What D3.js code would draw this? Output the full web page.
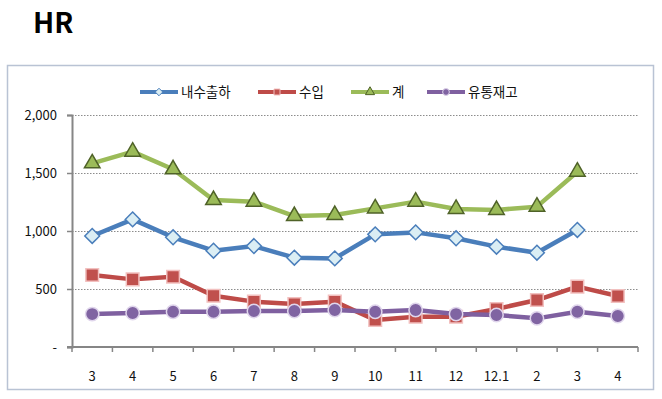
<!DOCTYPE html>
<html>
<head>
<meta charset="utf-8">
<script src="https://cdn.jsdelivr.net/npm/d3@7"></script>
<style>
  body { margin: 0; background: #fff; }
  text { font-family: "Noto Sans CJK KR", "Noto Sans", sans-serif; }
</style>
</head>
<body>
<div id="canvas"></div>
<script>
// x categories (months)
var months = ["3", "4", "5", "6", "7", "8", "9", "10", "11", "12", "12.1", "2", "3", "4"];
// series values
var domestic = [957, 1100, 946, 830, 870, 770, 764, 971, 988, 937, 865, 813, 1009];
var imports = [621, 583, 606, 442, 391, 371, 391, 233, 261, 261, 328, 405, 520, 440];
var total = [1583, 1684, 1532, 1267, 1253, 1129, 1138, 1195, 1253, 1190, 1181, 1210, 1511];
var stock = [284, 293, 304, 304, 310, 310, 319, 304, 319, 284, 276, 247, 304, 267];
var yTicks = [0, 500, 1000, 1500, 2000];
var seriesNames = ["내수출하", "수입", "계", "유통재고"];

var width = 662, height = 399;
var svg = d3.select("#canvas").append("svg")
  .attr("width", width).attr("height", height);

// title
svg.append("text")
  .attr("x", 33).attr("y", 33)
  .attr("font-size", 28).attr("font-weight", "bold")
  .attr("fill", "#000")
  .text("HR");

// chart frame
svg.append("rect")
  .attr("x", 7.5).attr("y", 65.5)
  .attr("width", 646).attr("height", 324)
  .attr("fill", "#fff").attr("stroke", "#b9c3d4").attr("stroke-width", 1.5);

var plotLeft = 72, plotRight = 638, plotTop = 115, plotBottom = 347;

var x = d3.scaleBand().domain(d3.range(months.length)).range([plotLeft, plotRight]);
var y = d3.scaleLinear().domain([0, 2000]).range([plotBottom, plotTop]);

// gridlines
svg.append("g").selectAll("line")
  .data(yTicks.filter(function (d) { return d > 0; }))
  .enter().append("line")
  .attr("x1", plotLeft).attr("x2", plotRight)
  .attr("y1", function (d) { return y(d) + 0.5; })
  .attr("y2", function (d) { return y(d) + 0.5; })
  .attr("stroke", "#8c8c8c").attr("stroke-width", 1)
  .attr("stroke-dasharray", "1.5,1.5");

// y axis
var yAxis = svg.append("g")
  .attr("transform", "translate(" + plotLeft + ",0)")
  .call(d3.axisLeft(y).tickValues(yTicks).tickSize(5).tickPadding(10)
    .tickFormat(function (d) { return d === 0 ? "-" : d3.format(",")(d); }));
yAxis.select(".domain").attr("stroke", "#868686").attr("stroke-width", 2);
yAxis.selectAll(".tick line").attr("stroke", "#868686").attr("stroke-width", 1.5);
yAxis.selectAll("text").attr("font-size", 13).attr("fill", "#111")
  .attr("font-family", "'Noto Sans CJK KR', sans-serif");

// x axis: ticks at category boundaries
var boundaries = d3.range(months.length + 1).map(function (i) { return plotLeft + i * x.step(); });
var xAxisG = svg.append("g");
xAxisG.append("line")
  .attr("x1", plotLeft - 5).attr("x2", plotRight)
  .attr("y1", plotBottom).attr("y2", plotBottom)
  .attr("stroke", "#868686").attr("stroke-width", 2);
xAxisG.selectAll("line.tk").data(boundaries).enter().append("line")
  .attr("class", "tk")
  .attr("x1", function (d) { return d; }).attr("x2", function (d) { return d; })
  .attr("y1", plotBottom).attr("y2", plotBottom + 5)
  .attr("stroke", "#868686").attr("stroke-width", 1.5);
xAxisG.selectAll("text").data(months).enter().append("text")
  .attr("x", function (d, i) { return x(i) + x.bandwidth() / 2; })
  .attr("y", 381)
  .attr("text-anchor", "middle")
  .attr("font-size", 13).attr("fill", "#111")
  .text(function (d) { return d; });

var series = [
  { name: seriesNames[0], values: domestic, line: "#4a7ebb", shape: "diamond", fill: "#dbeef4", stroke: "#4a7ebb" },
  { name: seriesNames[1], values: imports, line: "#be4b48", shape: "square", fill: "#c0504d", stroke: "#f2c0bf" },
  { name: seriesNames[2], values: total, line: "#9bbb59", shape: "triangle", fill: "#9bbb59", stroke: "#4f6228" },
  { name: seriesNames[3], values: stock, line: "#7f60a0", shape: "circle", fill: "#8064a2", stroke: "#e0d6ec" }
];

var symbolTypes = {
  diamond: d3.symbolDiamond2, square: d3.symbolSquare,
  triangle: d3.symbolTriangle, circle: d3.symbolCircle
};
var symbolSizes = { diamond: 140, square: 160, triangle: 105, circle: 140 };

var line = d3.line()
  .x(function (d, i) { return x(i) + x.bandwidth() / 2; })
  .y(function (d) { return y(d); });

series.forEach(function (s) {
  var g = svg.append("g");
  g.append("path")
    .attr("d", line(s.values))
    .attr("fill", "none")
    .attr("stroke", s.line)
    .attr("stroke-width", 4.5)
    .attr("stroke-linejoin", "round");
  g.selectAll("path.pt").data(s.values).enter().append("path")
    .attr("class", "pt")
    .attr("transform", function (d, i) {
      return "translate(" + (x(i) + x.bandwidth() / 2) + "," + y(d) + ")";
    })
    .attr("d", d3.symbol().type(symbolTypes[s.shape]).size(symbolSizes[s.shape]))
    .attr("fill", s.fill)
    .attr("stroke", s.stroke)
    .attr("stroke-width", 1.5);
});

// legend
var legendPos = [140, 258, 351, 427];
var legend = svg.append("g");
series.forEach(function (s, i) {
  var lx = legendPos[i], ly = 92;
  legend.append("line")
    .attr("x1", lx).attr("x2", lx + 38)
    .attr("y1", ly).attr("y2", ly)
    .attr("stroke", s.line).attr("stroke-width", 4);
  legend.append("path")
    .attr("transform", "translate(" + (lx + 19) + "," + ly + ")")
    .attr("d", d3.symbol().type(symbolTypes[s.shape]).size(36))
    .attr("fill", s.fill).attr("stroke", s.stroke).attr("stroke-width", 1);
  legend.append("text")
    .attr("x", lx + 41).attr("y", ly + 5)
    .attr("font-size", 13.5).attr("fill", "#111")
    .text(s.name);
});
</script>
</body>
</html>
